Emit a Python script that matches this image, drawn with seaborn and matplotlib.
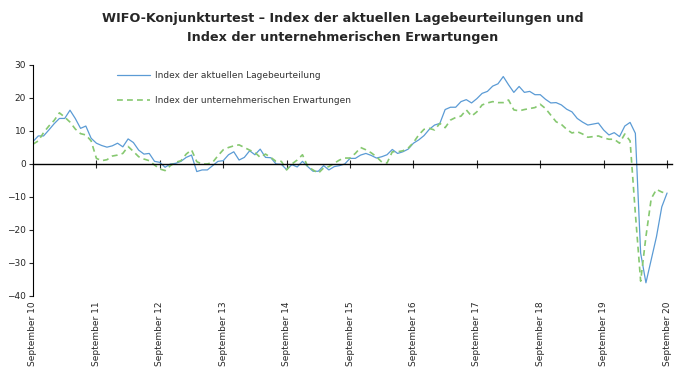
import numpy as np
import pandas as pd
import seaborn as sns
import matplotlib
matplotlib.use("Agg")
import matplotlib.pyplot as plt

# monthly values, September 2010 .. September 2020
lage = [6.8, 8.5, 8.5, 10.3, 12.2, 13.8, 13.8, 16.3, 13.8, 10.8, 11.5, 7.8,
        6.3, 5.6, 5.1, 5.5, 6.3, 5.2, 7.6, 6.5, 4.2, 3.0, 3.2, 0.8,
        0.5, -1.0, 0.0, 0.2, 0.8, 2.0, 2.7, -2.3, -1.8, -1.8, -0.5, 0.8,
        1.0, 2.8, 3.7, 1.2, 2.0, 4.0, 2.8, 4.5, 2.0, 1.9, 0.0, -0.1,
        -1.7, -0.2, -0.9, 0.8, -0.8, -2.2, -2.2, -0.5, -1.8, -0.8, -0.5, 0.0,
        1.7, 1.7, 2.7, 3.2, 2.6, 1.8, 2.2, 2.8, 4.4, 3.2, 3.7, 4.5,
        6.3, 7.3, 8.6, 10.5, 11.8, 12.3, 16.5, 17.2, 17.2, 18.9, 19.5, 18.5,
        19.8, 21.4, 22.0, 23.6, 24.3, 26.5, 24.0, 21.7, 23.5, 21.7, 22.0, 21.0,
        21.0, 19.6, 18.5, 18.6, 17.9, 16.6, 15.8, 13.8, 12.7, 11.8, 12.1, 12.4,
        10.3, 8.8, 9.5, 8.3, 11.5, 12.6, 9.3, -27.0, -36.0, -29.0, -22.0, -13.0,
        -8.8]

erwartungen = [6.0, 7.0, 9.5, 11.5, 13.2, 15.5, 14.2, 12.7, 10.6, 9.2, 8.8, 7.0,
               1.7, 1.0, 1.3, 2.4, 2.7, 3.2, 5.3, 3.8, 2.2, 1.5, 1.0, -0.3,
               -1.5, -2.0, -0.5, 0.5, 1.0, 3.0, 4.3, 0.7, 0.0, 0.0, 0.5, 2.5,
               4.3, 5.0, 5.5, 5.8, 5.0, 4.2, 3.5, 2.0, 3.0, 2.0, 0.8, 0.8,
               -1.8, 0.0, 1.2, 2.8, -0.8, -1.8, -2.8, -1.2, -0.8, 0.2, 1.2, 1.8,
               1.8, 3.2, 5.0, 4.3, 3.4, 2.2, 0.6, 0.3, 3.7, 3.7, 4.0, 4.8,
               6.5, 8.8, 10.5, 10.8, 10.3, 12.3, 11.0, 13.3, 14.1, 14.5, 16.4, 14.5,
               15.8, 17.9, 18.5, 18.9, 18.6, 18.6, 19.4, 16.4, 16.1, 16.5, 16.8, 17.1,
               18.1, 16.8, 14.8, 12.8, 12.0, 10.5, 9.4, 9.8, 9.1, 8.1, 8.3, 8.5,
               7.9, 7.5, 7.5, 6.3, 9.1, 7.0, -15.0, -35.5, -22.0, -10.5, -7.7, -8.5,
               -9.0]

tick_labels = ["September 10", "September 11", "September 12", "September 13",
               "September 14", "September 15", "September 16", "September 17",
               "September 18", "September 19", "September 20"]
y_ticks = [-40, -30, -20, -10, 0, 10, 20, 30]

label_lage = "Index der aktuellen Lagebeurteilung"
label_erw = "Index der unternehmerischen Erwartungen"
title = ("WIFO-Konjunkturtest \u2013 Index der aktuellen Lagebeurteilungen und\n"
         "Index der unternehmerischen Erwartungen")

df = pd.DataFrame({"monat": np.arange(len(lage)), "lage": lage, "erw": erwartungen})

sns.set_style("white")
plt.rcParams["font.family"] = ["DejaVu Sans"]

fig = plt.figure(figsize=(6.86, 3.77), dpi=100)
ax = fig.add_axes([0.0481, 0.2149, 0.932, 0.6127])

sns.lineplot(x="monat", y="lage", data=df, ax=ax, color="#5b9bd5",
             linewidth=0.9, label=label_lage)
sns.lineplot(x="monat", y="erw", data=df, ax=ax, color="#86c870",
             linewidth=1.2, linestyle=(0, (3.5, 2.5)), label=label_erw)

ax.set_xlim(0, 121)
ax.set_ylim(-40, 30)
ax.set_yticks(y_ticks)
ax.set_xlabel("")
ax.set_ylabel("")

for s in ["top", "right"]:
    ax.spines[s].set_visible(False)
ax.spines["left"].set_color("black")
ax.spines["left"].set_linewidth(0.8)
ax.spines["bottom"].set_position(("data", 0))
ax.spines["bottom"].set_color("black")
ax.spines["bottom"].set_linewidth(1.0)

tick_pos = np.arange(0, len(lage), 12)
ax.set_xticks(tick_pos)
ax.tick_params(axis="x", direction="inout", length=6, width=0.8,
               labelbottom=False, bottom=True)
ax.tick_params(axis="y", direction="out", length=3, width=0.8,
               labelsize=6.5, pad=2, left=True)

sec = ax.secondary_xaxis(0)
sec.set_xticks(tick_pos, labels=tick_labels)
sec.tick_params(length=0, labelsize=6.5, labelrotation=90, pad=4)
sec.spines["bottom"].set_visible(False)

leg = ax.legend(loc="upper left", bbox_to_anchor=(0.131, 0.972), frameon=False,
                fontsize=6.5, handlelength=3.7, handletextpad=0.5,
                labelspacing=1.75, borderpad=0, borderaxespad=0)
for t in leg.get_texts():
    t.set_color("#333333")

fig.suptitle(title, fontsize=9.2, fontweight="bold", y=0.968, va="top",
             linespacing=1.55)

fig.savefig("out.png", dpi=100)
